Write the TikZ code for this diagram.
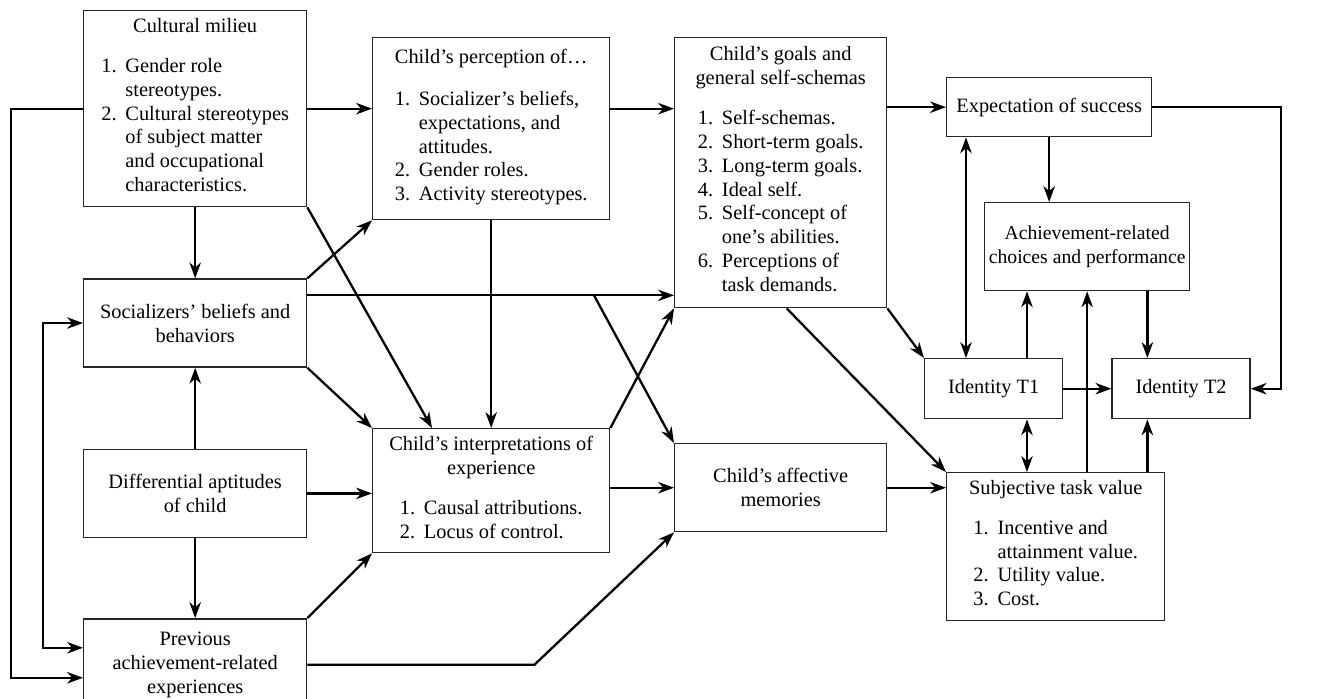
\documentclass[tikz,border=0pt]{standalone}
\usepackage{fontspec}
\setmainfont{Liberation Serif}
\usetikzlibrary{arrows.meta}
\usetikzlibrary{positioning}

\newcommand{\steps}[1]{\begin{tabular}[t]{@{}l@{\hspace{5pt}}l@{}}#1\end{tabular}}

\begin{document}
\begin{tikzpicture}
    [
    x=0.02cm, y=-0.02cm,
    box/.style={draw=black!85, line width=0.8pt, align=center, inner xsep=0.5pt, inner ysep=2pt,
      anchor=north west, font=\fontsize{11.6}{13.6}\selectfont},
    arr/.style={-{Stealth[length=9pt,width=6.5pt,inset=2.8pt]}, line width=1.3pt},
    dbl/.style={{Stealth[length=9pt,width=6.5pt,inset=2.8pt]}-{Stealth[length=9pt,width=6.5pt,inset=2.8pt]}, line width=1.3pt},
    ]
    \useasboundingbox (0,0) rectangle (1330,699);

    % left column
    \node (cm) at (83,10) [box, minimum width=4.46cm, minimum height=3.92cm]
      {Cultural milieu\\[9pt]
       \steps{1. & Gender role\\ & stereotypes.\\ 2. & Cultural stereotypes\\
              & of subject matter\\ & and occupational\\ & characteristics.}};
    \node (sb) [box, below=1.42cm of cm, minimum width=4.46cm, minimum height=1.76cm]
      {Socializers' beliefs and\\behaviors};
    \node (da) [box, below=1.62cm of sb, minimum width=4.46cm, minimum height=1.76cm]
      {Differential aptitudes\\of child};
    \node (pa) [box, below=1.6cm of da, minimum width=4.46cm, minimum height=1.84cm]
      {Previous\\achievement-related\\experiences};

    % middle columns
    \node (cp) at (372,37) [box, minimum width=4.74cm, minimum height=3.64cm]
      {Child's perception of…\\[10pt]
       \steps{1. & Socializer's beliefs,\\ & expectations, and\\ & attitudes.\\
              2. & Gender roles.\\ 3. & Activity stereotypes.}};
    \node (ci) at (372,428) [box, minimum width=4.74cm, minimum height=2.48cm]
      {Child's interpretations of\\experience\\[9pt]
       \steps{1. & Causal attributions.\\ 2. & Locus of control.}};
    \node (cg) at (674,37) [box, minimum width=4.24cm, minimum height=5.4cm]
      {Child's goals and\\general self-schemas\\[9pt]
       \steps{1. & Self-schemas.\\ 2. & Short-term goals.\\ 3. & Long-term goals.\\
              4. & Ideal self.\\ 5. & Self-concept of\\ & one's abilities.\\
              6. & Perceptions of\\ & task demands.}};
    \node (am) at (674,443) [box, minimum width=4.24cm, minimum height=1.76cm]
      {Child's affective\\memories};

    % right part
    \node (es) at (946,77) [box, minimum width=4.1cm, minimum height=1.18cm] {Expectation of success};
    \node (ac) at (984,202) [box, minimum width=4.1cm, minimum height=1.76cm,
      font=\fontsize{11.2}{13.6}\selectfont]
      {Achievement-related\\choices and performance};
    \node (i1) at (924,358) [box, minimum width=2.76cm, minimum height=1.2cm] {Identity T1};
    \node (i2) [box, right=0.96cm of i1, minimum width=2.76cm, minimum height=1.2cm] {Identity T2};
    \node (stv) at (946,472) [box, minimum width=4.36cm, minimum height=2.96cm]
      {Subjective task value\\[9pt]
       \steps{1. & Incentive and\\ & attainment value.\\ 2. & Utility value.\\ 3. & Cost.}};

    \coordinate (outer) at (11,0);
    \coordinate (inner) at (43,0);
    \coordinate (rside) at (1281,0);
    \coordinate (sbout) at ([yshift=-0.34cm]sb.north east);
    \coordinate (pa1) at ([yshift=0.34cm]pa.west);
    \coordinate (pa2) at ([yshift=-0.26cm]pa.west);
    \coordinate (c1) at ([xshift=0.86cm]ac.south west);
    \coordinate (c2) at ([xshift=-0.86cm]ac.south east);

    \draw [arr] (cm.west) -- (cm.west -| outer) -- (outer |- pa2) -- (pa2);
    \draw [dbl] (sb.west) -- (sb.west -| inner) -- (inner |- pa1) -- (pa1);
    \draw [arr] (cm.south) -- (sb.north);
    \draw [arr] (da.north) -- (sb.south);
    \draw [arr] (da.south) -- (pa.north);

    \draw [arr] (cm.east) -- (cm.east -| cp.west);
    \draw [arr] (cm.south east) -- ([xshift=1.2cm]ci.north west);
    \draw [arr] (sb.north east) -- (cp.south west);
    \draw [arr] (sbout) -- (sbout -| cg.west);
    \draw [arr] ([xshift=-1.6cm]sbout -| am.west) -- (am.north west);
    \draw [arr] (sb.south east) -- (ci.north west);
    \draw [arr] (da.east) -- (da.east -| ci.west);
    \draw [arr] (pa.north east) -- (ci.south west);
    \draw [arr] (pa.east) -- ++(227,0) -- (am.south west);

    \draw [arr] (cp.south) -- (ci.north);
    \draw [arr] (cm.east -| cp.east) -- (cm.east -| cg.west);
    \draw [arr] (am.west -| ci.east) -- (am.west);
    \draw [arr] (ci.north east) -- (cg.south west);

    \draw [arr] (es.west -| cg.east) -- (es.west);
    \draw [arr] (cg.south east) -- (i1.north west);
    \draw [arr] ([xshift=0.12cm]cg.south) -- (stv.north west);
    \draw [arr] (am.east) -- (am.east -| stv.west);

    \draw [arr] (es.south) -- (es.south |- ac.north);
    \draw [dbl] ([xshift=0.4cm]es.south west) -- ([xshift=0.4cm]es.south west |- i1.north);
    \draw [arr] (c1 |- i1.north) -- (c1);
    \draw [dbl] (c1 |- i1.south) -- (c1 |- stv.north);
    \draw [arr] (ac.south |- stv.north) -- (ac.south);
    \draw [arr] (c2) -- (c2 |- i2.north);
    \draw [arr] (c2 |- stv.north) -- (c2 |- i2.south);
    \draw [arr] (i1.east) -- (i2.west);
    \draw [arr] (es.east) -- (es.east -| rside) -- (rside |- i2.east) -- (i2.east);
  \end{tikzpicture}
\end{document}
